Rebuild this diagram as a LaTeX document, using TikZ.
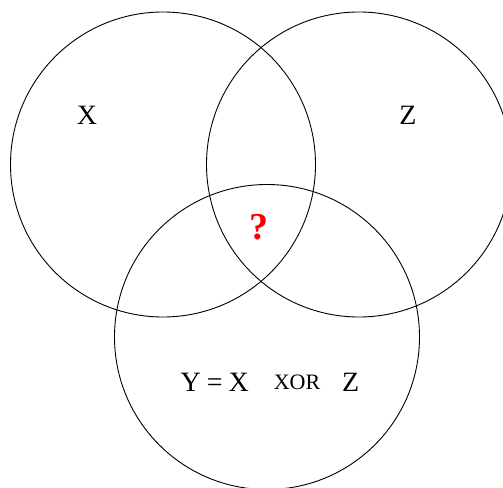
\documentclass[tikz,border=0pt]{standalone}
\usepackage{fontspec}
\setmainfont{Liberation Serif}
\usepackage{tikz}
\usetikzlibrary{positioning}
\usepackage{xcolor}

\begin{document}
\begin{tikzpicture}[x=1pt, y=-1pt, line width=0.9pt,
    setlabel/.style={font=\fontsize{28}{30}\selectfont, inner sep=0pt},
    oplabel/.style={font=\fontsize{22}{24}\selectfont, inner sep=0pt}]
    \useasboundingbox (0,0) rectangle (503,487);
    % Draw the three sets
    \draw (163,164.5) circle[radius=152.5];
    \draw (359,164.5) circle[radius=152.5];
    \draw (267,337) circle[radius=152.5];
    % Set names
    \node[setlabel] (x) at (87,115) {X};
    \node[setlabel] (z) at (408,115) {Z};
    % Unknown middle region
    \node[font=\fontsize{38}{40}\selectfont\bfseries, text=red, inner sep=0pt] (q) at (259,227) {?};
    % Relation in the bottom set
    \node[oplabel] (xor) at (297,382.5) {XOR};
    \node[setlabel, left=24pt of xor.west, anchor=east] (yx) {Y{\kern-1pt} = {\kern-1pt}X};
    \node[setlabel, right=21pt of xor.east, anchor=west] (zz) {Z};
\end{tikzpicture}
\end{document}
